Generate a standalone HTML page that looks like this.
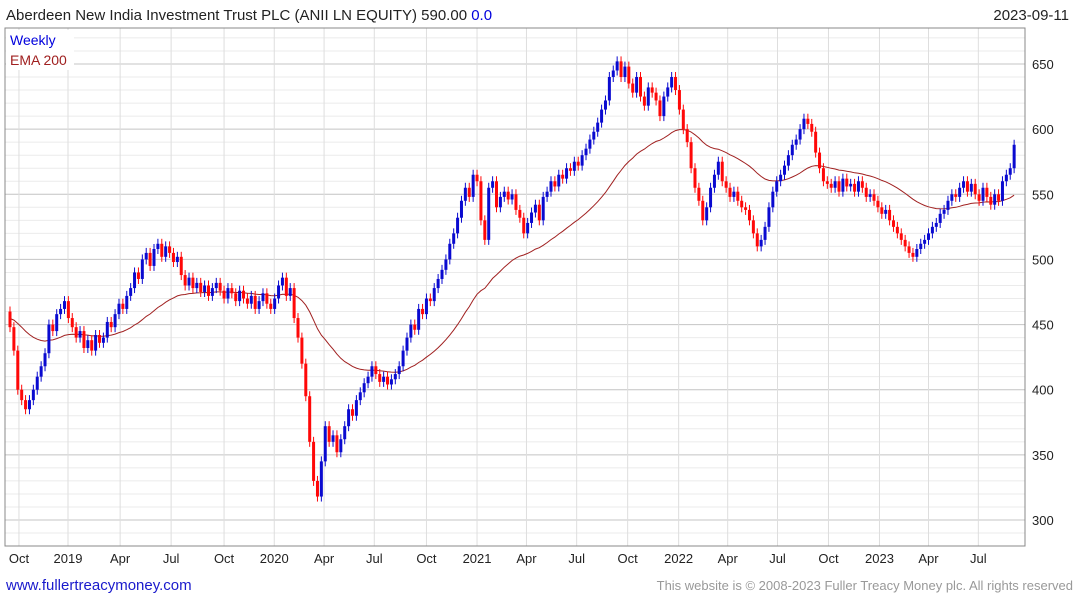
<!DOCTYPE html>
<html><head><meta charset="utf-8"><style>
body{margin:0;background:#fff;font-family:"Liberation Sans",sans-serif;}
svg{display:block}
</style></head><body>
<svg id="c" width="1075" height="600">
<text x="6" y="20" font-size="15" fill="#222">Aberdeen New India Investment Trust PLC (ANII LN EQUITY) 590.00 <tspan fill="#0000dd">0.0</tspan></text>
<text x="1069" y="20" font-size="15" fill="#222" text-anchor="end">2023-09-11</text>
<g id="grid"></g>
<g id="ema"></g>
<g id="candles"></g>
<rect x="5" y="28" width="1020" height="518" fill="none" stroke="#888"/>
<rect x="6" y="30" width="68" height="40" fill="#fff"/>
<text x="10" y="45" font-size="14" fill="#0000dd">Weekly</text>
<text x="10" y="65" font-size="14" fill="#a02020">EMA 200</text>
<g id="axes"></g>
<text x="6" y="590" font-size="15" fill="#1a1acc">www.fullertreacymoney.com</text>
<text x="1073" y="590" font-size="13" fill="#999" text-anchor="end">This website is © 2008-2023 Fuller Treacy Money plc. All rights reserved</text>
</svg>
<script>
const closes=[448,430,400,392,385,392,400,410,418,428,
450,445,458,462,468,455,448,440,445,432,
438,430,442,436,440,452,448,458,466,462,
472,478,490,485,500,505,495,508,512,502,
510,505,498,502,488,480,486,478,482,475,
480,472,478,482,476,470,478,474,468,476,
470,466,472,462,468,474,466,462,470,480,
486,472,478,455,440,420,395,360,330,318,
345,372,360,365,352,362,372,385,380,392,
398,405,410,418,412,406,410,404,408,412,
418,430,440,450,446,462,458,470,468,478,
485,492,500,512,520,532,545,555,548,565,
560,530,515,555,560,540,548,552,546,550,
538,532,520,528,536,542,530,548,552,560,
556,565,562,570,568,575,572,580,585,592,
598,605,615,622,640,645,652,640,648,635,
628,640,625,618,632,628,622,610,625,632,
640,630,615,600,590,570,555,545,530,540,
555,565,575,560,555,548,552,545,540,538,
530,520,510,515,525,540,552,560,565,572,
580,588,592,600,608,604,598,582,570,560,
558,555,560,552,562,556,558,552,560,555,
548,550,545,540,535,538,530,525,520,515,
510,505,502,508,512,515,520,525,528,535,
538,545,550,548,555,560,552,558,550,545,
555,548,542,550,545,560,565,570,588];
const firstOpen=460;
const emaSeed=455;
const yTicks=[300,350,400,450,500,550,600,650];
const xLabels=["Oct","2019","Apr","Jul","Oct","2020","Apr","Jul","Oct","2021","Apr","Jul","Oct","2022","Apr","Jul","Oct","2023","Apr","Jul"];
const xLabelWeeks=[2.3,14.9,28.3,41.4,55,67.9,80.7,93.6,107,120,132.7,145.6,158.7,171.8,184.4,197.2,210.3,223.4,236,248.8];
const ns="http://www.w3.org/2000/svg";
function X(i){return 10+i*3.892;}
function Y(v){return 520-(v-300)*1.3029;}
function mk(t,a,p){const e=document.createElementNS(ns,t);for(const k in a)e.setAttribute(k,a[k]);p.appendChild(e);return e;}
const grid=document.getElementById('grid'),axes=document.getElementById('axes'),cg=document.getElementById('candles'),eg=document.getElementById('ema');
for(let v=280;v<=680;v+=10){const y=Y(v);if(y<29||y>545)continue;
 const l=mk('line',{x1:5,x2:1025,y1:y,y2:y,stroke:v%50==0?'#c4c4c4':'#ebebeb','stroke-width':1},grid);
 }
xLabelWeeks.forEach((w,k)=>{const x=X(w);
 const l=mk('line',{x1:x,x2:x,y1:28,y2:546,stroke:'#dedede','stroke-width':1},grid);
 
 const t=mk('text',{x:x,y:563,'font-size':13,fill:'#222','text-anchor':'middle'},axes);t.textContent=xLabels[k];
 });
yTicks.forEach(v=>{const t=mk('text',{x:1032,y:Y(v)+5,'font-size':13,fill:'#222'},axes);t.textContent=v;
 });
let ema=emaSeed,pts=[];const a=2/41;
closes.forEach((c,i)=>{
 const o=i==0?firstOpen:closes[i-1];const up=c>=o;const col=up?'#0a0ad0':'#ff0808';
 const x=X(i),yt=Y(Math.max(o,c)),yb=Y(Math.min(o,c));
 const w=mk('line',{x1:x,x2:x,y1:yt-5,y2:yb+5,stroke:col,'stroke-width':1},cg);
 
 const r=mk('rect',{x:x-1.5,y:yt,width:3,height:Math.max(1.5,yb-yt),fill:col},cg);
 
 ema=ema+a*(c-ema);pts.push(x.toFixed(1)+','+Y(ema).toFixed(1));});
const pl=mk('polyline',{points:pts.join(' '),fill:'none',stroke:'#a02020','stroke-width':1},eg);


</script>
</body></html>
